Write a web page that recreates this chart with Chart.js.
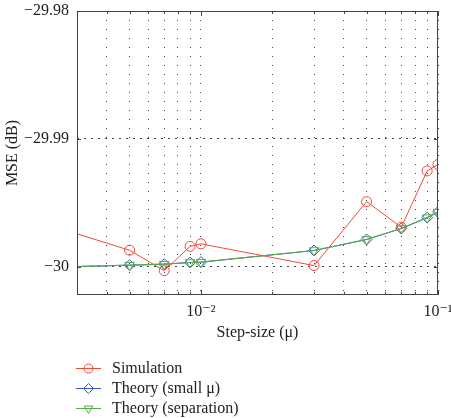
<!DOCTYPE html>
<html>
<head>
<meta charset="utf-8">
<script src="https://cdn.jsdelivr.net/npm/chart.js@4/dist/chart.umd.min.js"></script>
<style>body{margin:0;background:#fff}</style>
</head>
<body>
<canvas id="grafica" width="451" height="418"></canvas>
<script>
// datos
var pasos=[0.002,0.005,0.007,0.009,0.01,0.03,0.05,0.07,0.09,0.1]
var simulacion=[-29.9964,-29.9987,-30.0003,-29.9984,-29.9982,-29.9999,-29.9949,-29.9969,-29.9925,-29.9920]
var teoriaPequena=[-30.00005,-29.99987,-29.99979,-29.99966,-29.99963,-29.99872,-29.99786,-29.99700,-29.99615,-29.99571]
var teoriaSeparacion=[-30.00005,-29.99987,-29.99979,-29.99966,-29.99963,-29.99872,-29.99786,-29.99700,-29.99615,-29.99571]
var ticksX=[0.003,0.004,0.005,0.006,0.007,0.008,0.009,0.01,0.02,0.03,0.04,0.05,0.06,0.07,0.08,0.09,0.1]
var etiquetasX={'0.01':'10⁻²','0.1':'10⁻¹'}
var ticksY=[-30,-29.99,-29.98]
var nombres=['Simulation','Theory (small μ)','Theory (separation)']

var fuente='"Liberation Serif", "DejaVu Serif", serif'

function puntos(ys){return pasos.map((x,i)=>({x:x,y:ys[i]}))}

function dibujarMarca(ctx,estilo,x,y,r,rot){
  ctx.beginPath()
  if(estilo==='circle'){ctx.arc(x,y,r,0,Math.PI*2)}
  else if(estilo==='rectRot'){ctx.moveTo(x,y-r);ctx.lineTo(x+r,y);ctx.lineTo(x,y+r);ctx.lineTo(x-r,y);ctx.closePath()}
  else {var s=rot?1:-1;ctx.moveTo(x,y+s*r);ctx.lineTo(x+r*0.87,y-s*r*0.5);ctx.lineTo(x-r*0.87,y-s*r*0.5);ctx.closePath()}
  ctx.stroke()
}

// marco y marcas hacia dentro
const marco={
  id:'marco',
  afterDraw(chart){
    const {ctx,chartArea:a,scales:{x,y}}=chart
    ctx.save()
    ctx.strokeStyle='#444';ctx.lineWidth=1;ctx.setLineDash([])
    ctx.strokeRect(a.left+0.5,a.top+0.5,a.right-a.left-1,a.bottom-a.top-1)
    ticksX.forEach(v=>{
      const px=Math.round(x.getPixelForValue(v))+0.5
      const l=(v===0.01||v===0.1)?5:3
      ctx.beginPath();ctx.moveTo(px,a.bottom);ctx.lineTo(px,a.bottom-l)
      ctx.moveTo(px,a.top);ctx.lineTo(px,a.top+l);ctx.stroke()
    })
    ticksY.forEach(v=>{
      const py=Math.round(y.getPixelForValue(v))+0.5
      ctx.beginPath();ctx.moveTo(a.left,py);ctx.lineTo(a.left+4,py)
      ctx.moveTo(a.right,py);ctx.lineTo(a.right-4,py);ctx.stroke()
    })
    ctx.restore()
  }
}

// leyenda vertical debajo del grafico
const leyenda={
  id:'leyenda',
  afterDraw(chart){
    const ctx=chart.ctx
    ctx.save()
    ctx.font='16px '+fuente
    ctx.textBaseline='middle'
    chart.data.datasets.forEach((d,i)=>{
      const yy=368+i*20
      ctx.strokeStyle=d.borderColor;ctx.lineWidth=1
      ctx.beginPath();ctx.moveTo(76,yy+0.5);ctx.lineTo(101,yy+0.5);ctx.stroke()
      dibujarMarca(ctx,d.pointStyle,88.5,yy+0.5,d.pointRadius-0.5,d.pointRotation)
      ctx.fillStyle='#222'
      ctx.fillText(nombres[i],112,yy+1)
    })
    ctx.restore()
  }
}

var ctx=document.getElementById('grafica')

var grafica=new Chart(ctx,{
  type:'line',
  data:{
    datasets:[{
      label:nombres[0],
      data:puntos(simulacion),
      borderColor:'#f04a3a',
      backgroundColor:'rgba(0,0,0,0)',
      pointStyle:'circle',
      pointRadius:5,
      pointBorderWidth:1,
      borderWidth:1,
      order:1
    },{
      label:nombres[1],
      data:puntos(teoriaPequena),
      borderColor:'#3a5cc8',
      backgroundColor:'rgba(0,0,0,0)',
      pointStyle:'rectRot',
      pointRadius:5.5,
      pointBorderWidth:1,
      borderWidth:1,
      order:2
    },{
      label:nombres[2],
      data:puntos(teoriaSeparacion),
      borderColor:'#5aa84e',
      backgroundColor:'rgba(0,0,0,0)',
      pointStyle:'triangle',
      pointRotation:180,
      pointRadius:5.5,
      pointBorderWidth:1,
      borderWidth:1.2,
      order:0
    }]
  },
  options:{
    responsive:false,
    animation:false,
    devicePixelRatio:1,
    layout:{padding:{left:0,right:13,top:11,bottom:0}},
    plugins:{legend:{display:false},tooltip:{enabled:false}},
    elements:{line:{tension:0}},
    scales:{
      x:{
        type:'logarithmic',
        min:0.003,
        max:0.1,
        afterBuildTicks(s){s.ticks=ticksX.map(v=>({value:v}))},
        afterFit(s){s.height=123;s.paddingLeft=0;s.paddingRight=0},
        grid:{color:'#444',lineWidth:1,drawTicks:false},
        border:{display:false,dash:[1,8]},
        ticks:{
          autoSkip:false,maxRotation:0,padding:7,color:'#222',
          font:{family:fuente,size:16},
          callback:(v)=>etiquetasX[String(v)]||''
        },
        title:{display:true,text:'Step-size (μ)',color:'#222',font:{family:fuente,size:16},padding:{top:0,bottom:76}}
      },
      y:{
        min:-30.0022,
        max:-29.98,
        afterBuildTicks(s){s.ticks=ticksY.map(v=>({value:v}))},
        afterFit(s){s.width=77;s.paddingTop=0;s.paddingBottom=0},
        grid:{color:'#444',lineWidth:1,drawTicks:false},
        border:{display:false,dash:[2,5]},
        ticks:{
          padding:8,color:'#222',
          font:{family:fuente,size:16},
          callback:(v)=>v===-30?'−30':'−'+Math.abs(v).toFixed(2)
        },
        title:{display:true,text:'MSE (dB)',color:'#222',font:{family:fuente,size:16},padding:{top:3,bottom:0}}
      }
    }
  },
  plugins:[marco,leyenda]
})
</script>
</body>
</html>
